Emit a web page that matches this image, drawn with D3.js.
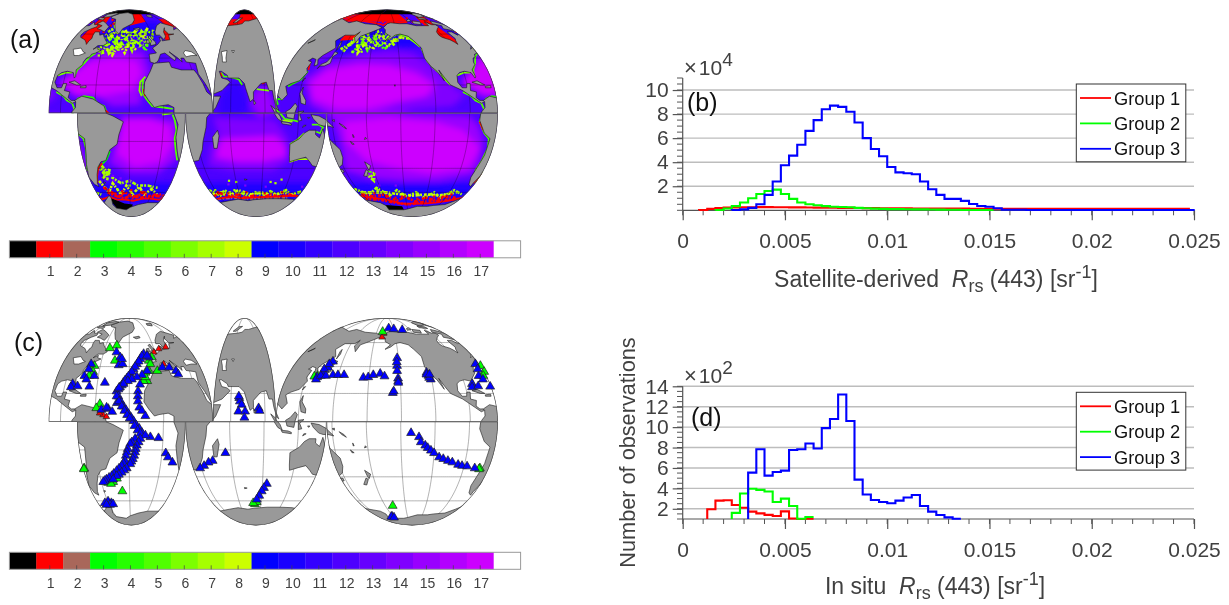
<!DOCTYPE html>
<html><head><meta charset="utf-8">
<script src="https://cdn.jsdelivr.net/npm/d3@7"></script>
<style>html,body{margin:0;padding:0;background:#fff}svg{display:block}text{font-family:"Liberation Sans",Arial,sans-serif}</style>
</head><body><svg id="c" width="1229" height="605"></svg>
<script>
// ---------- histogram data ----------
const binWidth = 0.0004;
const xTicks = [0,0.005,0.01,0.015,0.02,0.025];
const xTickLabels = ["0","0.005","0.01","0.015","0.02","0.025"];
const legendLabels = ["Group 1","Group 2","Group 3"];
const bRedStart=0.0008, bGreenStart=0.0016, bBlueStart=0.0024;
const bRed=[.03,.12,.18,.22,.24,.25,.25,.26,.26,.25,.25,.24,.24,.23,.22,.22,.21,.2,.2,.19,.18,.18,.17,.17,.16,.16,.15,.15,.15,.14,.14,.14,.14,.13,.13,.13,.13,.13,.12,.12,.12,.12,.12,.12,.12,.12,.12,.12,.12,.12,.12,.12,.12,.12,.12,.12,.12,.12,.12,.12];
const bGreen=[.03,.15,.35,.65,1.0,1.35,1.6,1.72,1.35,.95,.65,.5,.42,.35,.3,.28,.25,.2,.17,.14,.12,.1,.1,.09,.08,.08,.07,.06,.05,.04,.03,.03,.02,.02];
const bBlue=[.02,.08,.2,.5,1.28,2.4,3.75,4.55,5.45,6.6,7.5,8.4,8.7,8.6,8.2,7.3,6.0,5.1,4.5,3.6,3.15,3.08,3.0,2.4,1.75,1.28,.95,.95,.78,.53,.36,.3,.17,.05,.04,.04,.03,.03,.03,.03,.03,.03,.03,.03,.03,.03,.03,.03,.03,.03,.03,.03,.03,.03,.03,.03,.03,.03];
const dRedStart=0.0012, dGreenStart=0.0024, dBlueStart=0.0032;
const dRed=[1.95,2.8,2.83,2.37,2.1,1.72,1.55,1.4,1.3,1.75,1.05,1.0,1.02];
const dGreen=[1.6,3.5,3.97,3.85,3.7,2.67,3.0,2.27,1.03,1.2];
const dBlue=[5.54,7.83,5.25,5.6,5.74,7.76,7.83,8.4,7.9,9.9,10.8,13.2,10.6,4.86,3.4,2.86,2.67,2.54,2.8,3.1,3.35,2.27,1.72,1.39,1.16,1.03];

// ---------- colour classes ----------
const classColors=["#000000","#ff0000","#a9675a","#00ff00","#26ff00","#50ff00","#7cff00","#a6ff00","#ccff00","#0000ff","#1a00ff","#3300ff","#4d00ff","#6600ff","#8000ff","#9900ff","#b300ff","#cc00ff","#ffffff"];
const classLabels=[1,2,3,4,5,6,7,8,9,10,11,12,13,14,15,16,17];

// ---------- land outlines, lon/lat ----------
const northAmerica=[[-168,66],[-162,70],[-156,71],[-141,70],[-128,70],[-115,68],[-108,68],[-95,68],[-94,72],[-88,69],[-82,69],[-81,67],[-87,65],[-93,62],[-94,59],[-92,57],[-85,55],[-82,53],[-80,51],[-79,54],[-77,56],[-78,59],[-78,62],[-72,62],[-69,59],[-65,60],[-62,57],[-56,52],[-60,50],[-66,50],[-70,47],[-65,49],[-65,47],[-61,46],[-66,44],[-70,43],[-71,41],[-74,40],[-76,37],[-76,35],[-81,31],[-80,26],[-81,25],[-83,29],[-89,30],[-94,29],[-97,27],[-98,22],[-95,18],[-91,18],[-90,21],[-87,21],[-88,16],[-83,15],[-84,11],[-81,9],[-78,9],[-77,8],[-80,7],[-85,10],[-90,13],[-95,16],[-105,20],[-109,25],[-113,31],[-110,23],[-115,30],[-120,34],[-124,40],[-124,48],[-130,54],[-135,58],[-145,60],[-152,59],[-158,56],[-165,54],[-158,58],[-165,61],[-165,64]];
const southAmerica=[[-78,9],[-72,12],[-62,10],[-52,5],[-50,0],[-44,-2],[-35,-6],[-39,-15],[-41,-22],[-48,-26],[-53,-34],[-58,-35],[-62,-39],[-65,-45],[-68,-52],[-68,-55],[-72,-53],[-75,-47],[-73,-37],[-71,-30],[-70,-18],[-76,-14],[-81,-5],[-80,1],[-77,4],[-77,8]];
const africa=[[-6,36],[10,37],[11,33],[20,31],[32,31],[34,28],[37,21],[39,15],[43,12],[51,12],[47,4],[40,-3],[39,-10],[35,-20],[33,-26],[27,-34],[19,-35],[15,-27],[12,-17],[13,-8],[9,0],[9,4],[4,6],[-4,5],[-8,4],[-13,9],[-17,14],[-16,22],[-10,30]];
const eurasia=[[-9,37],[-9,43],[-1,44],[-4,48],[3,51],[8,54],[8,57],[11,56],[10,54],[20,55],[22,59],[30,60],[23,60],[21,64],[24,66],[18,62],[17,58],[13,55],[10,59],[5,59],[6,62],[14,68],[25,71],[40,67],[35,64],[44,66],[44,68],[60,69],[68,70],[73,73],[80,73],[100,76],[113,74],[130,71],[140,73],[160,70],[180,69],[190,66],[180,63],[170,60],[163,58],[160,52],[156,57],[160,62],[155,59],[142,59],[135,54],[140,48],[130,42],[127,39],[129,35],[126,34],[125,39],[121,40],[118,38],[122,37],[120,32],[122,29],[117,23],[110,21],[106,19],[109,13],[105,9],[100,13],[100,7],[103,2],[100,4],[98,10],[97,16],[94,16],[92,22],[87,21],[80,15],[80,10],[77,8],[73,18],[72,21],[67,25],[57,25],[56,27],[50,30],[48,30],[51,25],[56,24],[59,22],[52,16],[43,13],[39,21],[35,28],[36,36],[27,37],[26,40],[23,40],[23,37],[20,40],[13,45],[18,40],[16,38],[8,44],[3,43],[0,39],[-2,37],[-5,36]];
const australia=[[114,-22],[122,-18],[126,-14],[130,-12],[136,-12],[136,-15],[140,-17.5],[142,-11],[146,-19],[153,-26],[153,-32],[150,-37],[146,-39],[140,-38],[136,-35],[131,-31.5],[124,-33],[116,-35],[115,-31]];
const greenland=[[-73,78],[-60,82],[-35,83.5],[-20,81],[-20,74],[-25,70],[-40,65],[-44,60],[-50,63],[-54,69],[-58,75],[-68,76]];
const islands=[
[[-80,73],[-72,71],[-62,67],[-65,62],[-72,64],[-78,65],[-74,68],[-85,70]],
[[-117,70],[-105,69],[-102,72],[-115,73]],
[[-90,77],[-75,78],[-62,82],[-75,83],[-92,81]],
[[-125,72],[-116,73],[-118,75],[-124,74]],
[[-96,75],[-82,74],[-82,76],[-95,77]],
[[-24,65],[-15,66],[-14,64.5],[-20,63.5]],
[[-5.5,50],[1,51],[1.5,53],[-2,56],[-3,58.5],[-6,57.5],[-3,54],[-5,52]],
[[-10,52],[-6,52],[-6,55],[-9,54.5]],
[[12,78],[22,77],[28,80],[15,80]],
[[52,71],[57,71],[68,76.5],[60,76]],
[[142,46],[144,50],[143,54],[142,52]],
[[130,32],[132,34],[136,34],[141,36],[141,41],[144,43],[145,44],[141,45],[140,41],[137,37],[132,35]],
[[120,22.5],[122,25],[120.5,24.5]],
[[120,14],[122,18.5],[122,14],[126,9],[126,6],[122,7],[121,11]],
[[109,1],[113,3],[117,7],[119,5],[117,0],[116,-4],[110,-3]],
[[95,5.5],[100,2],[104,-2],[106,-6],[102,-4],[98,1]],
[[105,-6],[111,-6.5],[114,-7.5],[114,-8.5],[106,-7.5]],
[[120,1],[125,1.5],[121,-1],[123,-5],[120,-5.5]],
[[131,-1],[138,-2],[145,-5],[151,-10],[146,-9],[142,-9],[138,-8],[133,-4]],
[[145,-41],[148,-41],[148,-43],[146,-43.5]],
[[173,-35],[178,-38],[175,-41.5],[174,-39]],
[[172,-41],[174,-42],[170,-46.5],[167,-46]],
[[49,-12],[50,-16],[47,-25],[44,-25],[44,-17]],
[[80,9.5],[82,7],[80.5,6]],
[[-85,22],[-80,23],[-74,20],[-78,20]],
[[-74,19],[-69,19.5],[-69,18],[-74,18]],
[[-156,20],[-155,20],[-155.5,19]],
[[156,-7],[160,-9],[162,-11],[158,-9]],
[[164,-20],[167,-22],[165,-22]],
[[178,-17],[179,-18],[177,-18.5]],
[[167,-15],[168,-17],[167,-17]],
[[150,-5],[152,-4.5],[152,-6]],
[[125,-8.5],[127,-8.5],[124,-10]],
[[128,-3],[130,-3],[129,-4]],
[[-60,-51],[-58,-51.5],[-60,-52.5]],
[[73,-49],[70,-49.5],[70,-48.5]]
];
const inlandWater=[
[[47,45],[53,46],[53,40],[54,37],[50,37],[49,41]],
[[28,44],[31,46],[37,45],[41,42],[35,42],[29,41]],
[[-92,47],[-84,48],[-80,45],[-77,44],[-83,42],[-88,42]],
[[58,46],[61,46],[60,44]],
[[104,52],[108,54],[109,55],[105,52.5]]
];
const antarctica=[[-180,-78],[-160,-78],[-150,-77],[-130,-74],[-110,-74],[-100,-73],[-80,-72],[-70,-68],[-60,-63],[-58,-65],[-62,-72],[-60,-76],[-40,-78],[-30,-75],[-15,-72],[0,-70],[20,-70],[40,-68],[55,-66.5],[70,-68],[80,-67],[100,-66],[120,-66],[140,-66.5],[165,-70],[170,-73],[165,-78],[180,-78]];

// ---------- ocean classes of panel (a): [class, outline] ----------
const oceanZones=[
[10,[[-180,-52],[180,-52],[180,-72],[-180,-72]]],
[10,[[120,42],[150,42],[200,48],[235,48],[235,70],[120,70]]],
[10,[[-70,48],[0,50],[30,72],[-70,72]]],
[14,[[120,25],[140,38],[170,44],[200,46],[225,44],[240,35],[255,22],[265,12],[255,5],[220,3],[190,-5],[160,-5],[130,5]]],
[15,[[122,22],[140,34],[170,38],[200,38],[228,32],[242,22],[240,12],[210,8],[180,-4],[150,-3],[130,8]]],
[17,[[128,22],[140,31],[170,35],[200,34],[225,28],[240,20],[232,12],[205,8],[180,3],[155,3],[132,10]]],
[15,[[150,-3],[190,0],[240,-1],[270,-2],[278,-8],[285,-20],[287,-35],[285,-45],[250,-50],[210,-50],[175,-48],[150,-42],[155,-25]]],
[17,[[160,-6],[200,-3],[240,-6],[265,-12],[283,-25],[278,-40],[240,-44],[205,-40],[175,-34],[160,-20]]],
[15,[[-100,10],[-80,30],[-70,42],[-40,47],[-15,45],[-10,30],[-20,15],[-20,6],[-45,5],[-60,12],[-90,18]]],
[17,[[-95,22],[-72,37],[-45,40],[-22,38],[-18,28],[-28,16],[-55,12],[-78,12]]],
[15,[[-37,-2],[-10,-2],[12,-5],[14,-20],[17,-33],[0,-44],[-30,-44],[-50,-36],[-42,-20]]],
[17,[[-35,-4],[-12,-4],[6,-9],[10,-22],[2,-35],[-25,-39],[-42,-29],[-38,-15]]],
[14,[[45,-3],[100,-5],[112,-18],[115,-35],[100,-42],[60,-42],[35,-38],[40,-25],[50,-15]]],
[17,[[52,-18],[100,-16],[110,-23],[112,-31],[90,-35],[65,-35],[44,-32],[48,-25]]],
[11,[[50,12],[60,22],[68,23],[75,10],[75,0],[50,-2]]],
[15,[[80,15],[92,20],[97,10],[100,0],[85,-3],[78,5]]],
[14,[[-5,30],[10,38],[30,38],[36,34],[30,30],[10,33],[-5,35]]]
];
const polarWater=[
[1,[[110,72],[235,72],[235,84],[110,84]]],
[1,[[60,70],[110,74],[110,84],[60,84]]],
[1,[[-95,50],[-75,50],[-75,78],[-95,78]]],
[1,[[-30,68],[0,72],[10,84],[-30,84]]],
[1,[[15,53],[32,53],[32,67],[15,67]]],
[1,[[30,66],[70,67],[70,75],[30,75]]],
[0,[[-180,81],[180,81],[180,90],[-180,90]]],
[0,[[-62,-64],[-40,-71],[-25,-72],[-30,-78],[-60,-78]]],
[0,[[160,-72],[200,-74],[200,-80],[160,-80]]],
[1,[[140,54],[155,55],[163,62],[142,62]]],
[13,[[128,36],[140,42],[141,50],[130,43]]]
];
// coastal strips: [class, line]
const coastStrips=[
[5,[[-66,44],[-71,41],[-75,36],[-80,31],[-81,27]]],
[6,[[-97,27],[-90,29],[-84,29]]],
[4,[[-76,10],[-70,12],[-62,11],[-58,7],[-52,5],[-50,1]]],
[1,[[-51,2],[-48,0]]],
[5,[[-17,24],[-18,20],[-18,14],[-15,10],[-10,5],[0,4],[8,3]]],
[6,[[-15,26],[-20,22],[-21,16],[-19,12]]],
[1,[[-17,17],[-16,12]]],
[5,[[8,-1],[10,-5],[12,-12],[11,-18],[13,-25],[15,-30],[17,-34]]],
[6,[[-1,-1],[8,0]]],
[3,[[-48,-27],[-52,-33],[-56,-36],[-62,-39],[-65,-44],[-67,-50]]],
[1,[[-57,-36],[-62,-40],[-66,-47],[-68,-52]]],
[7,[[-78,-10],[-71,-18]]],
[6,[[-124,48],[-122,38],[-118,33],[-112,28],[-108,23],[-105,20]]],
[5,[[-95,15],[-88,12],[-85,9],[-80,7],[-78,3],[-80,-3],[-81,-6],[-76,-14],[-71,-18],[-70,-25],[-72,-35],[-74,-42]]],
[1,[[-81,-6],[-77,-12]]],
[6,[[-165,55],[-155,58],[-148,60],[-138,58],[-130,53],[-125,49]]],
[1,[[119,38],[121,35],[122,31]]],
[4,[[122,30],[118,24],[112,21],[108,19]]],
[5,[[50,29],[53,26],[57,26],[63,25],[67,24],[70,20]]],
[1,[[49,29],[51,26]]],
[1,[[88,21],[91,22]]],
[6,[[83,17],[94,16]]],
[5,[[100,3],[104,0],[108,-4],[116,-5],[120,-6]]],
[5,[[132,-8],[138,-8],[142,-10],[140,-14],[136,-13]]],
[7,[[106,-5],[115,-6]]],
[4,[[106,10],[100,10],[102,6]]],
[6,[[114,-22],[120,-19],[126,-14]]],
[7,[[116,-35],[124,-33],[134,-33]]],
[5,[[172,-42],[177,-43]]],
[1,[[-60,-64],[-50,-67],[-38,-67],[-25,-68],[-10,-66],[0,-66],[15,-67],[35,-65],[50,-64],[60,-65.5],[75,-65],[90,-64.5],[110,-64],[125,-63.5],[140,-63],[160,-65],[180,-67],[200,-71],[220,-71],[240,-71],[260,-70],[280,-68],[300,-64]]],
[1,[[-125,72],[-140,71],[-160,72],[-170,68]]],
[1,[[72,75],[100,78],[130,74],[150,73],[175,71],[190,69]]]
];
// broken scribbles giving the noisy patches of panel (a): [class, track]
const noisyTracks=[
[7,[[-65,46],[-58,52],[-52,44],[-46,56],[-42,46],[-38,60],[-34,48],[-30,62],[-26,50],[-22,62],[-18,48],[-14,60],[-10,50],[-6,62]]],
[5,[[-60,50],[-50,58],[-44,48],[-36,55],[-28,47],[-20,56],[-12,46],[-5,56]]],
[8,[[-55,47],[-48,42],[-42,52],[-35,44],[-30,52],[-22,46]]],
[6,[[-62,55],[-54,60],[-48,52],[-40,62],[-32,54],[-24,63],[-16,54],[-8,64],[2,60]]],
[7,[[-68,48],[-60,44],[-55,52],[-48,47],[-44,58],[-38,50],[-33,58],[-27,46],[-23,54],[-15,50],[-12,62],[-4,52],[5,64]]],
[8,[[-62,60],[-55,56],[-48,64],[-42,55],[-36,64],[-28,56],[-20,64],[-12,56],[-2,66]]],
[7,[[-60,62],[-52,66],[-56,72]]],
[12,[[-45,60],[-35,52],[-25,58],[-15,52],[-8,58]]],
[7,[[150,45],[158,58],[165,48],[172,60],[178,50],[185,62],[192,52],[200,58],[208,54],[218,58]]],
[5,[[160,44],[168,54],[176,46],[184,56],[194,47],[204,52]]],
[6,[[155,50],[162,60],[170,50],[180,58],[188,50],[198,55]]],
[8,[[152,50],[160,55],[166,44],[174,55],[182,47],[190,60],[198,50],[212,57],[225,56]]],
[7,[[146,47],[156,52],[163,62],[175,48],[187,54],[196,60],[206,50]]],
[11,[[170,55],[180,50],[190,56],[200,50]]],
[7,[[-62,-38],[-56,-46],[-58,-38],[-52,-44],[-60,-48],[-50,-40],[-56,-50]]],
[7,[[-50,-47],[-40,-52],[-30,-50],[-20,-54],[-8,-54],[5,-56]]],
[8,[[-65,-50],[-58,-60],[-50,-52],[-42,-62],[-34,-54],[-26,-62],[-18,-55],[-10,-62],[-2,-57],[8,-62]]],
[1,[[-60,-60],[-48,-64],[-36,-60],[-24,-66],[-12,-60],[0,-65],[12,-62],[20,-66]]],
[1,[[-62,-56],[-50,-62],[-40,-66],[-28,-63],[-14,-65],[2,-63],[16,-64]]],
[7,[[22,-58],[32,-63],[42,-58],[52,-64],[62,-60],[72,-64],[82,-60],[92,-63],[102,-59],[112,-62],[122,-58],[132,-62],[144,-59]]],
[8,[[22,-62],[36,-60],[48,-62],[60,-58],[76,-62],[90,-60],[105,-63],[120,-60],[138,-63]]],
[1,[[22,-64],[32,-60],[44,-64],[56,-62],[68,-65],[80,-63],[92,-65],[104,-62],[116,-64],[130,-62],[144,-64]]],
[2,[[25,-66],[50,-65],[75,-66],[100,-65],[130,-65]]],
[7,[[146,-57],[160,-62],[175,-56],[188,-63],[200,-58],[212,-64],[225,-60],[238,-65],[250,-60],[262,-65],[275,-58],[290,-62]]],
[8,[[150,-60],[170,-60],[185,-60],[205,-62],[220,-63],[240,-62],[258,-63],[280,-60]]],
[1,[[150,-62],[165,-64],[180,-62],[195,-68],[210,-64],[225,-69],[240,-65],[255,-67],[270,-64],[285,-65]]],
[1,[[148,-66],[170,-67],[190,-70],[215,-72],[240,-69],[265,-68],[290,-66]]],
[7,[[170,-44],[176,-50],[180,-43],[174,-47]]]
];
// scattered pixels of panel (a), one list per colour class
const speckRed=[[-50,-61],[-42,-63],[-30,-62],[-20,-63],[-10,-60],[5,-62],[18,-63],[32,-61],[45,-61],[60,-62],[70,-60],[95,-61],[118,-60],[130,-62],[150,-62],[168,-61],[182,-64],[195,-65],[205,-64],[215,-66],[228,-66],[240,-65],[252,-64],[265,-64],[275,-62],[-28,-58],[-15,-60],[-40,-59],[-62,-56],[-70,-48],[135,72],[165,68],[190,72],[200,75],[215,73],[230,74],[245,72],[260,72],[-72,66],[-60,68],[-57,70],[-63,74],[-66,62],[-110,72],[-120,76]];
const speckYellow=[[-30,-54],[-46,-57],[30,-58],[38,-62],[48,-60],[55,-58],[85,-61],[52,-50],[60,-51],[100,-51],[106,-52],[112,-49],[175,-58],[-45,48],[-40,50],[-52,46],[-58,44],[-62,42],[-48,44],[170,45],[185,50],[160,45],[195,52],[210,54],[225,57],[-48,62],[-55,64]];
const speckBlue=[[-35,52],[-28,50],[-20,50],[-42,54],[-30,57],[-22,57],[-15,56],[-38,60],[-25,60],[-50,55],[-12,60],[165,52],[178,51],[190,52],[200,53],[178,58],[190,60],[158,50],[-5,60],[5,62],[-60,58]];
const speckPurple=[[-48,-46],[-40,-48],[-30,-50],[50,-53],[70,-54],[95,-55],[140,-55],[180,-54],[200,-54],[-48,-50]];

// ---------- observation sites of panel (c), lon/lat ----------
const sitesBlue=[[-45,51.6],[-40,47.4],[-41,41.1],[-37,42],[-38,46],[-70,42],[-73.6,32.9],[-64,32.9],[-71,30.3],[-53,27.9],[-67,25],[-83,27],[-84,24.6],[-78,25.3],[-71,38],[-54.5,8.4],[-48.5,9.1],[-41,13.2],[-50,10],[-45,7],
[-13.5,50.2],[-18,46],[-22,42],[-25.7,38],[-29,34.1],[-32.4,31.1],[-35.6,27.9],[-38.6,24.6],[-41.6,21.6],[-16,48.3],[-20,44.1],[-24,40],[-27.5,36],[-30.8,32.6],[-34,29.6],[-37,26],[-40,23],
[-12.2,36.7],[-17.6,33.6],[-22.6,32],[-27.6,30.3],[-31.4,29.1],[-35.5,27],[-39.5,24.1],
[-20,26.5],[-22,21.6],[-22.3,18],[-22.3,14.4],[-21.2,10],[-19,7.7],[-16,4],[-8.4,47.4],[-10,48.8],[3.7,39.3],[10.7,39.3],[16.6,36.7],[18,34.1],
[-39.9,18],[-37.7,14.4],[-35.2,10.8],[-33,8.4],[-30.7,5.5],[-28.4,2.9],[-26.3,.5],[-41.4,18],[-39.2,14.4],[-36.7,10.8],[-34.3,7.7],[-31.9,4.8],[-29.6,2.4],
[-23.7,-2.4],[-21,-4.8],[-18.7,-7.7],[-25.2,-2.9],[-22.5,-6],[-20,-8.4],[-11.2,-10.8],[-4,-11.5],[-15.6,-9.6],[3.5,-22.3],[6,-25.3],[11,-29.1],
[-24.6,-12],[-27.5,-14.4],[-29,-15.6],[-31.2,-19.2],[-32,-21.6],[-33,-24.1],[-33.9,-27.9],[-35.5,-29.6],[-37.3,-31.6],[-40,-33.6],[-42.5,-35.4],[-45.6,-37.5],[-48,-39.3],[-51,-40.6],[-54,-42],[-56,-43],[-58,-44],
[-20,-12],[-21.5,-14.4],[-23,-16.8],[-24,-19.2],[-24.5,-21.6],[-25.4,-24.1],[-26.6,-26.5],[-27.9,-28.4],[-29,-30.3],[-32.5,-33.4],[-35,-35],[-37.7,-36.7],[-40.6,-38.3],[-43,-39.3],[-47,-42],
[-59.6,-60.5],[-56,-62],[-65,-62],[-59,-63.6],[-54,-63],[-64,-63.6],
[67.4,16.8],[68,14.4],[69.6,12],[66.7,7.2],[72.6,7.2],[72,2.9],[84.5,9.6],[85.3,7.7],[67,18],
[55,-22.2],[42.2,-27.9],[38,-29.1],[33,-31.6],[28.5,-33.4],[94.8,-45.5],[92,-48.8],[89.7,-51.6],[87,-55.4],[84,-58.7],
[201,74.3],[210.6,73.4],[226,72.5],[139.6,44],[137,39.3],[134,35.4],[130,32],[129.6,30.3],[134,38],[137,42],[133,33],[138,33],[144.6,33.6],[149.5,33.6],[155.5,33.6],
[174.6,31.6],[179.3,32],[184,33.6],[190.7,34.6],[195,32.6],[208.6,46.8],[207.8,40.6],[207.8,43.5],[207.5,36.7],[208,31],[208,29],[208,27.9],[202.6,20.4],[203.5,21.6],
[236.5,35.4],[237.8,33],[239.2,30.3],[238,31.5],[236,34],[239,34],
[219,-7.9],[226,-10.8],[227.7,-14.4],[231.7,-16.8],[234,-18.5],[237,-20.4],[240,-22.2],[245,-25.3],[249,-26.5],[253.6,-27.9],[258,-29],[264,-30.8],[268,-31.6],[273,-32],[281,-33.4],[177,-76],[175,-76],[179,-77]];
const sitesGreen=[[-54,55.1],[-46,57.4],[-45.5,44.7],[-66,40.6],[-56,12.5],[-59,9.6],[-14,35.4],[-13,29.1],[-16.5,29.1],[-14.4,32],[-10.5,36.7],[-9,44.7],[-5,47.4],[-8,42],[-2,36.7],[-53,-44.7],[-47.4,-44],[-50,-45.5],[-43,-41.3],[-38.5,-51.6],[-74.5,-34.1],[81.5,-63],[191,-64.6],[286,-33.4],[190,70.5],[130,33],[127,32.5],[-66,36],[-69,33],[84,-61],[79,-62]];
const sitesRed=[[-1.2,51.6],[6,54.4],[15.5,56],[6,42],[-53,4.8],[-50,3.5],[192,68.7],[190,65],[-56,6]];

// ---------- layout ----------
const svg=d3.select("#c");
const defs=svg.append("defs");
defs.append("filter").attr("id","soft").attr("x","-5%").attr("y","-5%").attr("width","110%").attr("height","110%").append("feGaussianBlur").attr("stdDeviation",3);
defs.append("filter").attr("id","fine").attr("x","-5%").attr("y","-5%").attr("width","110%").attr("height","110%").append("feGaussianBlur").attr("stdDeviation",0.4);
const toRad=Math.PI/180;
function theta(lat){const phi=lat*toRad;if(Math.abs(lat)>=90)return Math.sign(lat)*Math.PI/2;let t=phi;for(let i=0;i<40;i++){const d=(2*t+Math.sin(2*t)-Math.PI*Math.sin(phi))/(2+2*Math.cos(2*t));t-=d;if(Math.abs(d)<1e-7)break;}return t;}
const pxPerDeg=1.147; // map pixels per degree of longitude on the equator
const lobes=[
 {n:1,c:-30,w:-100.3,e:42.9,x0:129.3},
 {n:1,c:72,w:44.6,e:99.4,x0:244.4},
 {n:1,c:197.2,w:100.4,e:294,x0:386.8},
 {n:0,c:-28,w:-75.3,e:19.3,x0:131.3},
 {n:0,c:83,w:21.5,e:144.5,x0:256},
 {n:0,c:220,w:145.3,e:294.7,x0:412.2}
];
function drawMap(yEq,id,withOcean){
 const yS=d3.scaleLinear().domain([-1,1]).range([yEq+103.8,yEq-103.8]);
 const root=svg.append("g").attr("filter","url(#fine)");
 const marks=svg.append("g").attr("filter","url(#fine)");
 lobes.forEach((L,i)=>{
  const xS=d3.scaleLinear().domain([-1,1]).range([L.x0-pxPerDeg,L.x0+pxPerDeg]);
  const px=p=>xS((p[0]-L.c)*Math.cos(theta(p[1])));
  const py=p=>yS(Math.sin(theta(p[1])));
  const line=d3.line().x(px).y(py);
  const lats=L.n?d3.range(0,90.5,2):d3.range(0,-90.5,-2);
  const outline=[...lats.map(a=>[L.w,a]),...lats.slice().reverse().map(a=>[L.e,a])];
  const cid=id+"clip"+i;
  defs.append("clipPath").attr("id",cid).append("path").attr("d",line(outline)+"Z");
  const g=root.append("g").attr("clip-path",`url(#${cid})`);
  g.append("path").attr("d",line(outline)+"Z").attr("fill",withOcean?classColors[12]:"#fff");
  const off=[-360,0,360];
  const shift=(pts,o)=>pts.map(p=>[p[0]+o,p[1]]);
  if(withOcean){
   const blur=g.append("g").attr("filter","url(#soft)");
   oceanZones.forEach(([k,pts])=>off.forEach(o=>blur.append("path").attr("d",line(shift(pts,o))+"Z").attr("fill",classColors[k])));
   polarWater.forEach(([k,pts])=>off.forEach(o=>g.append("path").attr("d",line(shift(pts,o))+"Z").attr("fill",classColors[k])));
   noisyTracks.forEach(([k,pts])=>off.forEach(o=>g.append("path").attr("d",line(shift(pts,o))).attr("fill","none").attr("stroke",classColors[k]).attr("stroke-width",2.6).attr("stroke-dasharray","3 1 2 1.5 4 1 1.5 2")));
   coastStrips.forEach(([k,pts])=>off.forEach(o=>g.append("path").attr("d",line(shift(pts,o))).attr("fill","none").attr("stroke",classColors[k]).attr("stroke-width",1.8)));
   [[speckPurple,14],[speckBlue,10],[speckYellow,7],[speckRed,1]].forEach(([arr,k])=>off.forEach(o=>{
     g.append("g").selectAll("rect").data(shift(arr,o)).join("rect")
      .attr("x",d=>px(d)-1.1).attr("y",d=>py(d)-1.1).attr("width",2.2).attr("height",2.2).attr("fill",classColors[k]);
   }));
  }
  // graticule
  const gr=g.append("g").attr("fill","none").attr("stroke",withOcean?"#000":"#555").attr("stroke-opacity",withOcean?.45:.75).attr("stroke-width",.6);
  d3.range(-360,721,30).filter(m=>m>=L.w&&m<=L.e).forEach(m=>{
    gr.append("path").attr("d",line(lats.map(a=>[m,a])));
  });
  d3.range(20,61,20).forEach(a=>{const la=L.n?a:-a;
    gr.append("path").attr("d",line(d3.range(L.w,L.e+1,2).map(m=>[m,la])));});
  // land
  const landG=g.append("g").attr("fill","#999").attr("stroke","#1a1a1a").attr("stroke-width",.6).attr("stroke-linejoin","round");
  [northAmerica,southAmerica,africa,eurasia,australia,greenland,...islands].forEach(pts=>off.forEach(o=>landG.append("path").attr("d",line(shift(pts,o))+"Z")));
  inlandWater.forEach(pts=>landG.append("path").attr("d",line(pts)+"Z").attr("fill","#fff"));
  // Antarctica, unrolled around the lobe's centre
  if(!L.n){
   const unrolled=[...shift(antarctica,-360),...antarctica.slice(1),...shift(antarctica,360).slice(1)].filter(p=>p[0]>=L.c-190&&p[0]<=L.c+190);
   const a=unrolled[0],b=unrolled[unrolled.length-1];
   g.append("path").attr("d",line([...unrolled,[b[0],-85],[L.c,-90],[a[0],-85]])+"Z").attr("fill","#999");
   g.append("path").attr("d",line(unrolled)).attr("fill","none").attr("stroke","#1a1a1a").attr("stroke-width",.6);
  }
  // lobe border
  g.append("path").attr("d",line(outline)+"Z").attr("fill","none").attr("stroke","#444").attr("stroke-width",1.3);
  if(!withOcean){
   const sym=d3.symbol().type(d3.symbolTriangle);
   [[sitesRed,"#ff0000",18],[sitesGreen,"#00ff00",34],[sitesBlue,"#0000ff",34]].forEach(([arr,col,size])=>{
    const pts=[];off.forEach(o=>shift(arr,o).forEach(p=>{if(p[0]>=L.w&&p[0]<=L.e&&(L.n?p[1]>=0:p[1]<0))pts.push(p);}));
    marks.append("g").selectAll("path").data(pts).join("path")
     .attr("d",sym.size(size)()).attr("transform",d=>`translate(${px(d)},${py(d)})`)
     .attr("fill",col).attr("stroke","#222").attr("stroke-width",.7);
   });
  }
 });
}
function drawBar(top){
 const x=d3.scaleBand().domain(d3.range(19)).range([9.4,520.6]).padding(0);
 const h=17;
 const g=svg.append("g");
 g.selectAll("rect").data(classColors).join("rect").attr("x",(d,i)=>x(i)).attr("y",top).attr("width",x.bandwidth()+.3).attr("height",h).attr("fill",d=>d);
 g.append("rect").attr("x",9.4).attr("y",top).attr("width",511.2).attr("height",h).attr("fill","none").attr("stroke","#999").attr("stroke-width",1);
 classLabels.forEach(v=>{
  const cx=x(v)+x.bandwidth()/2;
  g.append("line").attr("x1",cx).attr("x2",cx).attr("y1",top+h).attr("y2",top+h-4).attr("stroke","#444").attr("stroke-width",.7);
  g.append("text").attr("x",cx+1).attr("y",top+35.5).attr("text-anchor","middle").attr("font-size",14).attr("fill","#404040").text(v);
 });
}
function stair(start,vals){const r=vals.map((v,i)=>[start+i*binWidth,v]);r.push([start+vals.length*binWidth,vals[vals.length-1]]);return r;}
function drawHist(o){
 const x=d3.scaleLinear().domain([0,0.025]).range([682.7,1194]);
 const y=d3.scaleLinear().domain(o.dom).range([o.bottom,o.top]);
 const g=svg.append("g");
 g.selectAll(".grid").data(o.ticks).join("line").attr("x1",682.7).attr("x2",1194).attr("y1",d=>y(d)).attr("y2",d=>y(d)).attr("stroke","#bdbdbd").attr("stroke-width",1.4);
 const yAxis=d3.axisLeft(y).tickValues(o.ticks).tickSize(10).tickFormat(d=>d);
 const ya=g.append("g").attr("transform","translate(682.7,0)").call(yAxis);
 ya.select(".domain").attr("stroke","#555").attr("stroke-width",1.2).attr("d",`M0,${o.bottom}V${o.axTop}`);
 ya.selectAll(".tick line").attr("stroke","#555").attr("stroke-width",1.2);
 ya.selectAll("text").attr("font-size",21).attr("fill","#404040").attr("x",-14).attr("font-family",'"Liberation Sans",Arial,sans-serif');
 g.append("g").selectAll("line").data(d3.range(o.dom[0],o.dom[1]+.01,.5)).join("line").attr("x1",677).attr("x2",682.7).attr("y1",d=>y(d)).attr("y2",d=>y(d)).attr("stroke","#555").attr("stroke-width",1);
 const xAxis=d3.axisBottom(x).tickValues(xTicks).tickSize(10).tickFormat((d,i)=>xTickLabels[i]);
 const xa=g.append("g").attr("transform",`translate(0,${o.bottom})`).call(xAxis);
 xa.select(".domain").attr("stroke","#555").attr("stroke-width",1.2).attr("d",`M682.7,0H1194`);
 xa.selectAll(".tick line").attr("stroke","#555").attr("stroke-width",1.2);
 xa.selectAll("text").attr("font-size",21).attr("fill","#404040").attr("y",23).attr("font-family",'"Liberation Sans",Arial,sans-serif');
 g.append("g").selectAll("line").data(d3.range(0,0.02501,0.001)).join("line").attr("x1",d=>x(d)).attr("x2",d=>x(d)).attr("y1",o.bottom).attr("y2",o.bottom+5).attr("stroke","#555").attr("stroke-width",1);
 const cp="cp"+o.bottom;
 defs.append("clipPath").attr("id",cp).append("rect").attr("x",682.7).attr("y",o.axTop).attr("width",512).attr("height",o.bottom-o.axTop+1);
 const ln=d3.line().curve(d3.curveStepAfter).x(d=>x(d[0])).y(d=>y(d[1]));
 const L=g.append("g").attr("clip-path",`url(#${cp})`).attr("fill","none").attr("stroke-width",2.1);
 o.series.forEach(([s,vals,col])=>{
   const pts=stair(s,vals);
   pts.unshift([s,o.dom[0]]);
   L.append("path").attr("d",ln(pts)).attr("stroke",col);
 });
 const ex=g.append("text").attr("x",684).attr("y",o.exY).attr("fill","#404040").attr("font-size",21);
 ex.append("tspan").text("×").attr("font-size",22);
 ex.append("tspan").text("10").attr("dx",2);
 ex.append("tspan").text(o.exp).attr("dy",-9).attr("font-size",19);
 g.append("text").attr("x",o.lx).attr("y",o.ly).attr("font-size",25).attr("fill","#111").text(o.label);
 const lg=g.append("g");
 lg.append("rect").attr("x",1076.3).attr("y",o.legY).attr("width",109.5).attr("height",77.8).attr("fill","#fff").attr("stroke","#333").attr("stroke-width",1);
 legendLabels.forEach((t,i)=>{
  const yy=o.legY+14+i*25.4;
  lg.append("line").attr("x1",1080).attr("x2",1111).attr("y1",yy).attr("y2",yy).attr("stroke",["#f00","#0f0","#00f"][i]).attr("stroke-width",1.8);
  lg.append("text").attr("x",1114).attr("y",yy+6.5).attr("font-size",18.3).attr("fill","#111").text(t);
 });
 const t=g.append("text").attr("x",o.xlabX).attr("y",o.bottom+o.xlab).attr("text-anchor","middle").attr("font-size",23).attr("fill","#404040");
 t.append("tspan").text(o.prefix+"\u00a0\u00a0");
 t.append("tspan").text("R").attr("font-style","italic");
 t.append("tspan").text("rs").attr("dy",5).attr("font-size",18);
 t.append("tspan").text(" (443) [sr").attr("dy",-5);
 t.append("tspan").text("-1").attr("dy",-9).attr("font-size",18);
 t.append("tspan").text("]").attr("dy",9);
}
drawMap(113.2,"a",true);
drawMap(421.7,"c",false);
drawBar(240.8);
drawBar(552.3);
svg.append("text").attr("x",10).attr("y",48).attr("font-size",25).attr("fill","#111").text("(a)");
svg.append("text").attr("x",14).attr("y",351).attr("font-size",25).attr("fill","#111").text("(c)");
drawHist({dom:[0,11],top:78,bottom:210.3,axTop:78,ticks:[2,4,6,8,10],exp:"4",exY:75,lx:687,ly:111,label:"(b)",legY:84,xlab:77,xlabX:936,prefix:"Satellite-derived",
 series:[[bRedStart,bRed,"#ff0000"],[bGreenStart,bGreen,"#00ff00"],[bBlueStart,bBlue,"#0000ff"]]});
drawHist({dom:[1,14],top:386.3,bottom:519,axTop:386.3,ticks:[2,4,6,8,10,12,14],exp:"2",exY:383,lx:691,ly:426,label:"(d)",legY:392.3,xlab:75,xlabX:935,prefix:"In situ",
 series:[[dRedStart,dRed,"#ff0000"],[dGreenStart,dGreen,"#00ff00"],[dBlueStart,dBlue,"#0000ff"]]});
svg.append("text").attr("transform","translate(635,452.5) rotate(-90)").attr("text-anchor","middle").attr("font-size",21.7).attr("fill","#404040").text("Number of observations");
</script></body></html>
